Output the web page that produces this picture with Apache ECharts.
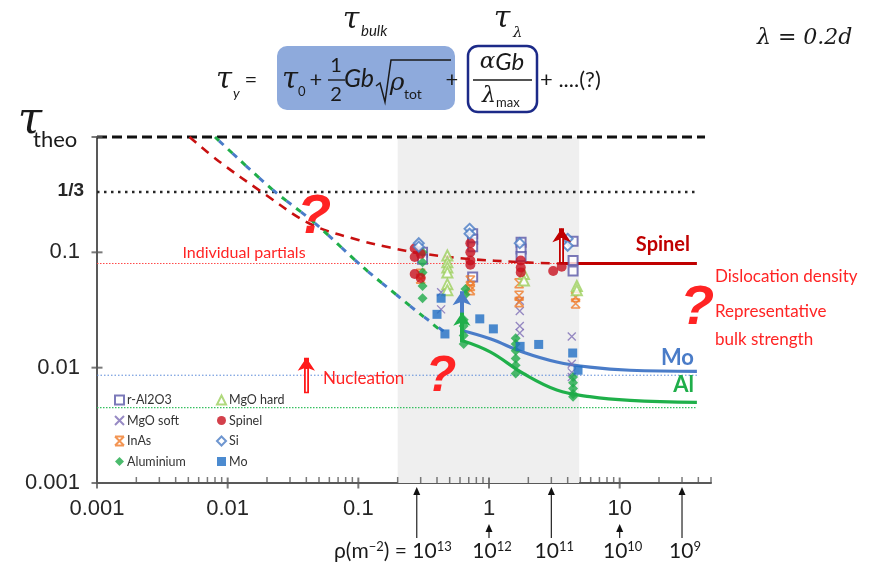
<!DOCTYPE html>
<html><head><meta charset="utf-8">
<script src="https://cdn.jsdelivr.net/npm/echarts@6/dist/echarts.min.js"></script>
<style>html,body{margin:0;padding:0;background:#fff}#c{width:877px;height:567px}</style>
</head><body><div id="c"></div>
<script>
// ---- axis ticks / labels ----
const xMajor = [0.001, 0.01, 0.1, 1, 10];
const xLabels = ['0.001', '0.01', '0.1', '1', '10'];
const xMinor = [0.002,0.003,0.004,0.005,0.006,0.007,0.008,0.009,
                0.02,0.03,0.04,0.05,0.06,0.07,0.08,0.09,
                0.2,0.3,0.4,0.5,0.6,0.7,0.8,0.9,
                2,3,4,5,6,7,8,9, 20,30,40,50];
const yMajor = [0.001, 0.01, 0.1, 1];
const yLabels = ['0.001', '0.01', '0.1', ''];
const thirdLevel = 1/3;

// ---- gray band (x range) ----
const bandX = [0.2, 4.9];

// ---- reference levels ----
const refTheo = [[0.001, 1], [45, 1]];
const refThird = [[0.001, thirdLevel], [40, thirdLevel]];
const refPartials = [[0.001, 0.08], [3.5, 0.08]];
const refMo = [[0.001, 0.0086], [39, 0.0086]];
const refAl = [[0.001, 0.0045], [39, 0.0045]];

// ---- model curves ----
const spinelDash = [[0.0051,1],[0.0085,0.62],[0.0185,0.33],[0.043,0.176],[0.1,0.128],[0.175,0.11],[0.3,0.098],[0.67,0.088],[1.82,0.082],[3.5,0.080]];
const spinelSolid = [[3.5,0.080],[39,0.080]];
const moDash = [[0.008,1],[0.022,0.35],[0.045,0.185],[0.109,0.074],[0.2,0.042],[0.3,0.029],[0.5,0.019]];
const alDash = [[0.008,1],[0.022,0.35],[0.045,0.185],[0.109,0.074],[0.2,0.042],[0.3,0.029],[0.45,0.02]];
const moSolid = [[0.62,0.021],[1.02,0.0178],[1.83,0.0136],[3.3,0.0112],[5.9,0.0101],[12,0.0095],[39,0.0093]];
const alSolid = [[0.62,0.0172],[1.02,0.0137],[1.83,0.0089],[3.3,0.0064],[5.9,0.0056],[12,0.0052],[39,0.0050]];

// ---- experimental data ----
const rAl2O3 = [[0.31,0.100],[0.31,0.087],[0.75,0.145],[0.75,0.130],[0.75,0.112],[0.75,0.061],[1.76,0.122],[1.76,0.107],[1.76,0.092],[4.4,0.125],[4.4,0.085],[4.4,0.069]];
const mgoSoft = [[0.43,0.045],[0.43,0.032],[1.72,0.038],[1.72,0.031],[1.72,0.023],[1.72,0.020],[4.3,0.0186],[4.3,0.0108],[4.3,0.0091],[4.3,0.0083]];
const inAs = [[0.30,0.065],[0.30,0.059],[0.72,0.057],[0.72,0.051],[0.72,0.047],[1.70,0.054],[1.70,0.042],[1.70,0.037],[4.6,0.041],[4.6,0.036]];
const aluminium = [[0.31,0.100],[0.31,0.082],[0.31,0.067],[0.31,0.051],[0.31,0.040],[0.66,0.048],[0.66,0.043],[0.64,0.026],[0.64,0.023],[0.64,0.019],[0.64,0.016],[1.60,0.018],[1.60,0.016],[1.60,0.014],[1.60,0.012],[1.60,0.0105],[1.60,0.0089],[4.4,0.0083],[4.4,0.0074],[4.4,0.0066],[4.4,0.0059],[4.4,0.0056]];
const mgoHard = [[0.48,0.094],[0.48,0.082],[0.48,0.074],[0.48,0.067],[0.48,0.053],[0.48,0.047],[1.85,0.065],[1.85,0.057],[4.7,0.051],[4.7,0.047]];
const spinel = [[0.27,0.108],[0.30,0.097],[0.27,0.091],[0.27,0.065],[0.30,0.060],[0.72,0.120],[0.72,0.100],[0.72,0.085],[0.72,0.078],[1.75,0.085],[1.75,0.074],[1.75,0.067],[3.1,0.069],[3.6,0.075]];
const si = [[0.29,0.120],[0.29,0.112],[0.71,0.160],[0.71,0.145],[1.72,0.120],[4.0,0.131],[4.0,0.114]];
const mo = [[0.43,0.040],[0.40,0.029],[0.46,0.0196],[0.85,0.0265],[1.08,0.0217],[1.73,0.0153],[2.4,0.0159],[4.37,0.0134],[4.8,0.0095]];

// ---- annotation arrows (x, from, to) ----
const moArrow = [[0.62,0.021],[0.62,0.046]];
const alArrow = [[0.62,0.0166],[0.62,0.030]];
const spinelArrow = [[3.6,0.080],[3.6,0.162]];
const nucleationArrow = [[0.040,0.0060],[0.040,0.0122]];

// ---- density arrows under the axis ----
const rhoX = [0.28, 1, 3.0, 10, 30];
const rhoExp = ['13', '12', '11', '10', '9'];
const rhoBig = [true, false, true, false, true];

const legendCol1 = ['r-Al2O3', 'MgO soft', 'InAs', 'Aluminium'];
const legendCol2 = ['MgO hard', 'Spinel', 'Si', 'Mo'];

const chart = echarts.init(document.getElementById('c'), null, {renderer: 'canvas'});
const AX = '#595959';
const crossPath = 'path://M0,0L10,10M10,0L0,10';
const inAsPath = 'path://M0,0L10,0M0,10L10,10M0,0L10,10M10,0L0,10';

function idx(list, v) {
  return list.findIndex(m => Math.abs(Math.log10(m) - Math.log10(v)) < 1e-6);
}
function refLine(data, color, width, dash, extra) {
  return Object.assign({type: 'line', data, symbol: 'none', silent: true, clip: false, animation: false,
    lineStyle: {color, width, type: dash}}, extra || {});
}
function lineArrow(data, color, width, size) {
  return {type: 'lines', coordinateSystem: 'cartesian2d', silent: true, z: 6,
    symbol: ['none', 'arrow'], symbolSize: size,
    lineStyle: {color, width, opacity: 1, curveness: 0},
    data: [{coords: data}]};
}
function shaftHighlight(data, frac) {
  const a = data[0], b = data[1];
  const top = Math.pow(10, Math.log10(a[1]) + (Math.log10(b[1]) - Math.log10(a[1])) * frac);
  return {type: 'lines', coordinateSystem: 'cartesian2d', silent: true, z: 7, symbol: 'none',
    lineStyle: {color: '#ffffff', width: 1.4, opacity: 1, curveness: 0},
    data: [{coords: [[a[0], a[1] * 1.03], [a[0], top]]}]};
}

const option = {
  animation: false,
  grid: {left: 97, right: 166, top: 137, bottom: 84},
  xAxis: {type: 'log', logBase: 10, min: 0.001, max: 50,
    axisLine: {lineStyle: {color: AX, width: 2}}, axisTick: {show: false},
    splitLine: {show: false}, minorTick: {show: false},
    axisLabel: {margin: 15, fontSize: 22, color: '#262626', fontFamily: 'Liberation Sans',
      formatter: v => { const i = idx(xMajor, v); return i >= 0 ? xLabels[i] : ''; }}},
  yAxis: {type: 'log', logBase: 10, min: 0.001, max: 1,
    axisLine: {lineStyle: {color: AX, width: 2}}, axisTick: {show: false},
    splitLine: {show: false},
    axisLabel: {margin: 17, fontSize: 22, color: '#262626', fontFamily: 'Liberation Sans',
      formatter: v => { const i = idx(yMajor, v); return i >= 0 ? yLabels[i] : ''; }}},
  legend: [
    {data: legendCol1, orient: 'vertical', left: 114, top: 393, itemWidth: 9, itemHeight: 9, itemGap: 6.5, padding: 0,
      textStyle: {fontSize: 12.5, fontFamily: 'Lato', color: '#333', lineHeight: 14, padding: [0, 0, 0, -2]}, selectedMode: false},
    {data: legendCol2, orient: 'vertical', left: 216, top: 393, itemWidth: 9, itemHeight: 9, itemGap: 6.5, padding: 0,
      textStyle: {fontSize: 12.5, fontFamily: 'Lato', color: '#333', lineHeight: 14, padding: [0, 0, 0, -2]}, selectedMode: false}
  ],
  series: [
    {type: 'line', data: [], silent: true, z: 0,
      markArea: {silent: true, itemStyle: {color: '#efefef'},
        data: [[{xAxis: bandX[0], yAxis: 0.001}, {xAxis: bandX[1], yAxis: 1}]]}},
    refLine(refPartials, '#ff4a4a', 1, [1.5, 1.5]),
    refLine(refMo, '#5a8ad8', 1, [1.5, 2]),
    refLine(refAl, '#36c060', 1.3, [1.5, 1.5]),
    refLine(refThird, '#262626', 2.6, [2.5, 4.5]),
    refLine(refTheo, '#111111', 3, [10, 5]),
    refLine(spinelDash, '#c81010', 2.6, [9, 7], {smooth: 0.35}),
    refLine(alDash, '#1fae4a', 3, [6, 12], {smooth: 0.3}),
    refLine(moDash, '#4a7cc8', 3, [6, 12], {smooth: 0.3, lineStyle: {color: '#4a7cc8', width: 3, type: [6, 12], dashOffset: 12}}),
    refLine(spinelSolid, '#c00000', 3),
    refLine(moSolid, '#4a7cc8', 3.2, 'solid', {smooth: 0.4}),
    refLine(alSolid, '#1fb04a', 3.2, 'solid', {smooth: 0.4}),
    {name: 'r-Al2O3', type: 'scatter', data: rAl2O3, symbol: 'emptyRect', symbolSize: 9, z: 4,
      itemStyle: {color: '#5a58a8', borderWidth: 1.3}},
    {name: 'MgO soft', type: 'scatter', data: mgoSoft, symbol: crossPath, symbolSize: 8, z: 4,
      itemStyle: {color: 'rgba(0,0,0,0)', borderColor: '#7d6db5', borderWidth: 1.3}},
    {name: 'InAs', type: 'scatter', data: inAs, symbol: inAsPath, symbolSize: 9, z: 4,
      itemStyle: {color: 'rgba(0,0,0,0)', borderColor: '#f07a28', borderWidth: 1.6}},
    {name: 'Aluminium', type: 'scatter', data: aluminium, symbol: 'diamond', symbolSize: 10, z: 4,
      itemStyle: {color: '#1eaa48'}},
    {name: 'MgO hard', type: 'scatter', data: mgoHard, symbol: 'emptyTriangle', symbolSize: 10, z: 4,
      itemStyle: {color: '#9ccf5c', borderWidth: 1.3}},
    {name: 'Spinel', type: 'scatter', data: spinel, symbol: 'circle', symbolSize: 10, z: 4,
      itemStyle: {color: '#c8101e'}},
    {name: 'Si', type: 'scatter', data: si, symbol: 'emptyDiamond', symbolSize: 10, z: 4,
      itemStyle: {color: '#4a7cc4', borderWidth: 1.3}},
    {name: 'Mo', type: 'scatter', data: mo, symbol: 'rect', symbolSize: 9, z: 4,
      itemStyle: {color: '#1f6ec4'}},
    lineArrow(moArrow, '#4a7cc8', 4, 14),
    lineArrow(alArrow, '#1fae4a', 4, 13),
    lineArrow(spinelArrow, '#c00000', 5, 14),
    shaftHighlight(spinelArrow, 0.72),
    lineArrow(nucleationArrow, '#ff1a1a', 5, 13),
    shaftHighlight(nucleationArrow, 0.68),
    // axis ticks
    {type: 'scatter', silent: true, clip: false, z: 8, symbol: 'rect', symbolSize: [2, 11],
      data: xMajor.map(v => [v, 0.001]), itemStyle: {color: AX}},
    {type: 'scatter', silent: true, clip: false, z: 8, symbol: 'rect', symbolSize: [1.5, 6], symbolOffset: [0, -3],
      data: xMinor.map(v => [v, 0.001]), itemStyle: {color: AX}},
    {type: 'scatter', silent: true, clip: false, z: 8, symbol: 'rect', symbolSize: [11, 2],
      data: yMajor.map(v => [0.001, v]), itemStyle: {color: AX}}
  ]
};
chart.setOption(option);

// ---------- graphics (annotations, formula) ----------
const SERIF = '"DejaVu Serif"';
function T(x, y, text, font, fill, align, extra) {
  return Object.assign({type: 'text', silent: true, z: 50,
    style: {x, y, text, font, fill: fill || '#1a1a1a', align: align || 'center', verticalAlign: 'middle'}}, extra || {});
}
const g = [];
// formula boxes
g.push({type: 'rect', z: 40, shape: {x: 277, y: 46, width: 178, height: 64, r: 10}, style: {fill: '#8eaadc'}});
g.push({type: 'rect', z: 40, shape: {x: 468, y: 46, width: 69, height: 66, r: 10}, style: {fill: '#ffffff', stroke: '#1c2a88', lineWidth: 2.5}});
// titles over boxes
g.push(T(351, 20, 'τ', 'italic 30px ' + SERIF));
g.push(T(361, 31, 'bulk', 'italic 15px Lato', null, 'left'));
g.push(T(502, 19, 'τ', 'italic 30px ' + SERIF));
g.push(T(513, 33, 'λ', 'italic 15px ' + SERIF, null, 'left'));
// formula row
g.push(T(224, 80, 'τ', 'italic 29px ' + SERIF));
g.push(T(233, 93, 'y', 'italic 14px Lato', null, 'left'));
g.push(T(251, 80, '=', '22px Lato'));
g.push(T(290, 80, 'τ', 'italic 29px ' + SERIF));
g.push(T(298, 92, '0', '13px Lato', null, 'left'));
g.push(T(316, 80, '+', '22px Lato'));
g.push(T(336, 66, '1', '20px Lato'));
g.push({type: 'line', z: 50, shape: {x1: 328, y1: 80, x2: 345, y2: 80}, style: {stroke: '#1a1a1a', lineWidth: 1.4}});
g.push(T(336, 95, '2', '20px Lato'));
g.push(T(359, 79, 'Gb', 'italic 25px Lato'));
g.push({type: 'polyline', z: 50, shape: {points: [[376, 86], [380, 83], [385, 102], [391, 60], [451, 60]]}, style: {stroke: '#1a1a1a', lineWidth: 1.5, fill: null}});
g.push(T(397, 83, 'ρ', 'italic 25px ' + SERIF));
g.push(T(404, 94, 'tot', '14px Lato', null, 'left'));
g.push(T(452, 80, '+', '22px Lato'));
g.push({type: 'text', silent: true, z: 50, style: {x: 502, y: 62, text: '{a|α}{g|Gb}', align: 'center', verticalAlign: 'middle', fill: '#1a1a1a',
  rich: {a: {fontSize: 23, fontFamily: 'DejaVu Serif', fontStyle: 'italic'}, g: {fontSize: 24, fontFamily: 'Lato', fontStyle: 'italic'}}}});
g.push({type: 'line', z: 50, shape: {x1: 473, y1: 80, x2: 532, y2: 80}, style: {stroke: '#1a1a1a', lineWidth: 1.4}});
g.push(T(489, 96, 'λ', 'italic 22px ' + SERIF));
g.push(T(496, 103, 'max', '13px Lato', null, 'left'));
g.push(T(540, 80, '+ ....(?)', '22px Lato', null, 'left'));
g.push(T(757, 38, 'λ = 0.2d', 'italic 22px ' + SERIF, null, 'left'));
// axis side texts
g.push(T(30, 122, 'τ', 'italic 44px ' + SERIF));
g.push(T(33, 140, 'theo', '22px Lato', null, 'left'));
g.push(T(84, 191, '1/3', 'bold 19px "Liberation Sans"', '#262626', 'right'));
// plot annotations
const RED = '#ff2424';
g.push(T(244, 253, 'Individual partials', '16px Lato', RED));
g.push(T(323, 379, 'Nucleation', '17px Lato', RED, 'left'));
g.push(T(314, 218, '?', 'bold italic 56px "Liberation Sans"', RED));
g.push(T(441, 377, '?', 'bold italic 50px "Liberation Sans"', RED));
g.push(T(697, 309, '?', 'bold italic 56px "Liberation Sans"', RED));
g.push(T(690, 245, 'Spinel', 'bold 20px Lato', '#c00000', 'right'));
g.push(T(694, 358, 'Mo', 'bold 22px Lato', '#4a7cc8', 'right'));
g.push(T(694, 385, 'Al', 'bold 22px Lato', '#1fae4a', 'right'));
g.push(T(715, 277, 'Dislocation density', '17px Lato', RED, 'left'));
g.push(T(715, 312, 'Representative', '17px Lato', RED, 'left'));
g.push(T(715, 340, 'bulk strength', '17px Lato', RED, 'left'));
// density arrows below the x axis
rhoX.forEach((v, i) => {
  const px = chart.convertToPixel({xAxisIndex: 0, yAxisIndex: 0}, [v, 0.001])[0];
  const tip = rhoBig[i] ? 487 : 524;
  g.push({type: 'line', z: 50, shape: {x1: px, y1: 538, x2: px, y2: tip + 6}, style: {stroke: '#222', lineWidth: 1.2}});
  g.push({type: 'polygon', z: 50, shape: {points: [[px, tip], [px - 3.5, tip + 8], [px + 3.5, tip + 8]]}, style: {fill: '#111'}});
  const rich = {b: {fontSize: 21, fontFamily: 'Lato', fill: '#1a1a1a'}, s: {fontSize: 13, fontFamily: 'Lato', fill: '#1a1a1a', verticalAlign: 'top'}};
  if (i === 0) {
    g.push({type: 'text', z: 50, style: {x: px + 35, y: 551, text: '{b|ρ(m}{s|−2}{b|) = 10}{s|' + rhoExp[i] + '}', rich, align: 'right', verticalAlign: 'middle'}});
  } else {
    g.push({type: 'text', z: 50, style: {x: px + 3, y: 551, text: '{b|10}{s|' + rhoExp[i] + '}', rich, align: 'center', verticalAlign: 'middle'}});
  }
});
chart.setOption({graphic: g});
</script></body></html>
